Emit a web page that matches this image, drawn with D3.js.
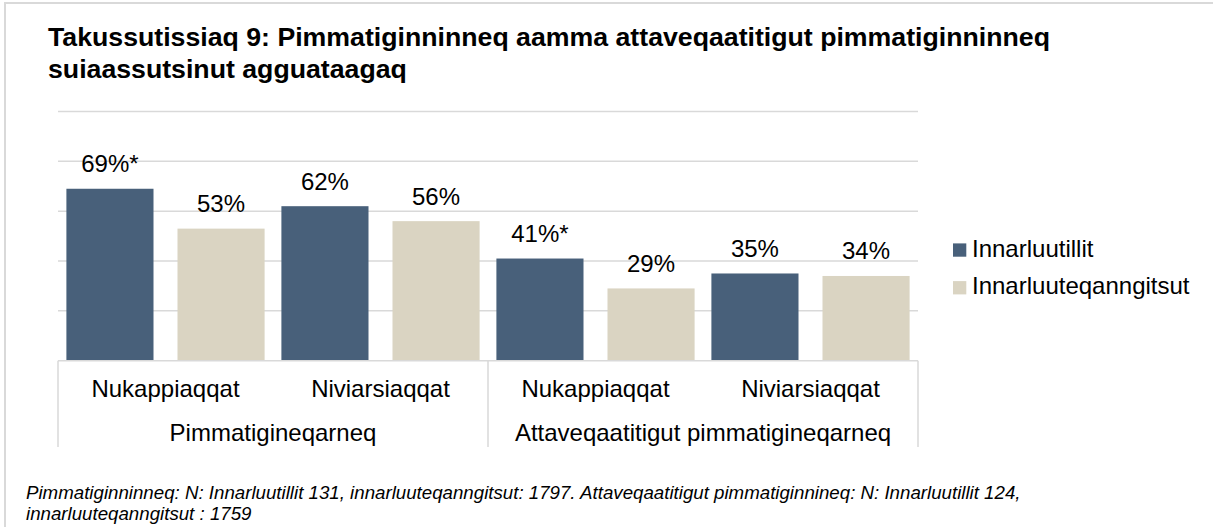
<!DOCTYPE html>
<html>
<head>
<meta charset="utf-8">
<script src="https://cdn.jsdelivr.net/npm/d3@7"></script>
<style>
  html, body { margin: 0; padding: 0; background: #fff; }
  svg { display: block; font-family: Arial, "Liberation Sans", sans-serif; }
</style>
</head>
<body>
<svg id="chart" width="1213" height="527"></svg>
<script>
// ---- data ----
const titleLines = [
  "Takussutissiaq 9: Pimmatiginninneq aamma attaveqaatitigut pimmatiginninneq",
  "suiaassutsinut agguataagaq"
];
const groups = ["Pimmatigineqarneq", "Attaveqaatitigut pimmatigineqarneq"];
const categories = ["Nukappiaqqat", "Niviarsiaqqat", "Nukappiaqqat", "Niviarsiaqqat"];
const seriesNames = ["Innarluutillit", "Innarluuteqanngitsut"];
const innarluutillit = [69, 62, 41, 35];
const innarluuteqanngitsut = [53, 56, 29, 34];
const innarluutillitMark = ["*", "", "*", ""];
const innarluuteqanngitsutMark = ["", "", "", ""];
const yTicks = [0, 20, 40, 60, 80, 100];
const footnoteLines = [
  "Pimmatiginninneq: N: Innarluutillit 131, innarluuteqanngitsut: 1797. Attaveqaatitigut pimmatiginnineq: N: Innarluutillit 124,",
  "innarluuteqanngitsut : 1759"
];

// ---- layout / style ----
const colors = ["#48607A", "#DAD4C2"];
const gridColor = "#D9D9D9";
const plot = { left: 58, right: 918, top: 111.5, bottom: 360.7, axisBottom: 447 };

const svg = d3.select("#chart");
svg.append("rect").attr("width", 1213).attr("height", 527).attr("fill", "#fff");

// outer border (top and left visible)
svg.append("path")
  .attr("d", "M5,527 L5,3 L1213,3")
  .attr("fill", "none").attr("stroke", gridColor).attr("stroke-width", 2);

// title
const title = svg.append("text").attr("x", 48).attr("font-weight", "bold")
  .attr("font-size", 26.7).attr("fill", "#000");
titleLines.forEach((t, i) => {
  title.append("tspan").attr("x", 48).attr("y", 45.7 + i * 32.6).text(t);
});

// scales
const y = d3.scaleLinear().domain([0, 100]).range([plot.bottom, plot.top]);
const x = d3.scaleBand().domain(d3.range(categories.length)).range([plot.left, plot.right]).padding(0);
const outer = 8.4;
const xs = d3.scaleBand().domain(seriesNames)
  .range([outer, x.bandwidth() - outer]).paddingInner(0.216).paddingOuter(0);

// gridlines
svg.append("g").selectAll("line").data(yTicks.filter(d => d > 0)).join("line")
  .attr("x1", plot.left).attr("x2", plot.right)
  .attr("y1", d => y(d)).attr("y2", d => y(d))
  .attr("stroke", gridColor).attr("stroke-width", 1.5);

// bars
const seriesData = [innarluutillit, innarluuteqanngitsut];
const seriesMarks = [innarluutillitMark, innarluuteqanngitsutMark];
const rows = [];
categories.forEach((c, i) => {
  seriesNames.forEach((s, j) => {
    rows.push({ i, s, j, v: seriesData[j][i], mark: seriesMarks[j][i] });
  });
});

svg.append("g").selectAll("rect").data(rows).join("rect")
  .attr("x", d => x(d.i) + xs(d.s))
  .attr("y", d => y(d.v))
  .attr("width", xs.bandwidth())
  .attr("height", d => y(0) - y(d.v))
  .attr("fill", d => colors[d.j]);

// value labels
svg.append("g").selectAll("text").data(rows).join("text")
  .attr("x", d => x(d.i) + xs(d.s) + xs.bandwidth() / 2)
  .attr("y", d => y(d.v) - 16.5)
  .attr("text-anchor", "middle").attr("font-size", 24).attr("fill", "#000")
  .text(d => d.v + "%" + d.mark);

// category axis frame
const ax = svg.append("g");
ax.append("line").attr("x1", plot.left).attr("x2", plot.right)
  .attr("y1", y(0)).attr("y2", y(0)).attr("stroke", gridColor).attr("stroke-width", 1.5);
const groupScale = d3.scaleBand().domain(d3.range(groups.length)).range([plot.left, plot.right]);
const dividers = d3.range(groups.length + 1).map(k => k === groups.length ? plot.right : groupScale(k));
ax.selectAll("line.div").data(dividers).join("line").attr("class", "div")
  .attr("x1", d => d).attr("x2", d => d)
  .attr("y1", y(0)).attr("y2", plot.axisBottom)
  .attr("stroke", gridColor).attr("stroke-width", 1.5);

ax.selectAll("text.cat").data(categories).join("text").attr("class", "cat")
  .attr("x", (d, i) => x(i) + x.bandwidth() / 2)
  .attr("y", 397)
  .attr("text-anchor", "middle").attr("font-size", 24).attr("fill", "#000")
  .text(d => d);

ax.selectAll("text.grp").data(groups).join("text").attr("class", "grp")
  .attr("x", (d, i) => groupScale(i) + groupScale.bandwidth() / 2)
  .attr("y", 440.5)
  .attr("text-anchor", "middle").attr("font-size", 24).attr("fill", "#000")
  .text(d => d);

// legend
const leg = svg.append("g");
seriesNames.forEach((s, j) => {
  const by = 256.7 + j * 37.7;
  leg.append("rect").attr("x", 953).attr("y", by - 13.3).attr("width", 13.3).attr("height", 13.3)
    .attr("fill", colors[j]);
  leg.append("text").attr("x", 972).attr("y", by).attr("font-size", 24).attr("fill", "#000").text(s);
});

// footnote
const fn = svg.append("text").attr("font-style", "italic").attr("font-size", 18.7).attr("fill", "#000");
footnoteLines.forEach((t, i) => {
  fn.append("tspan").attr("x", 26).attr("y", 499 + i * 21).text(t);
});
</script>
</body>
</html>
